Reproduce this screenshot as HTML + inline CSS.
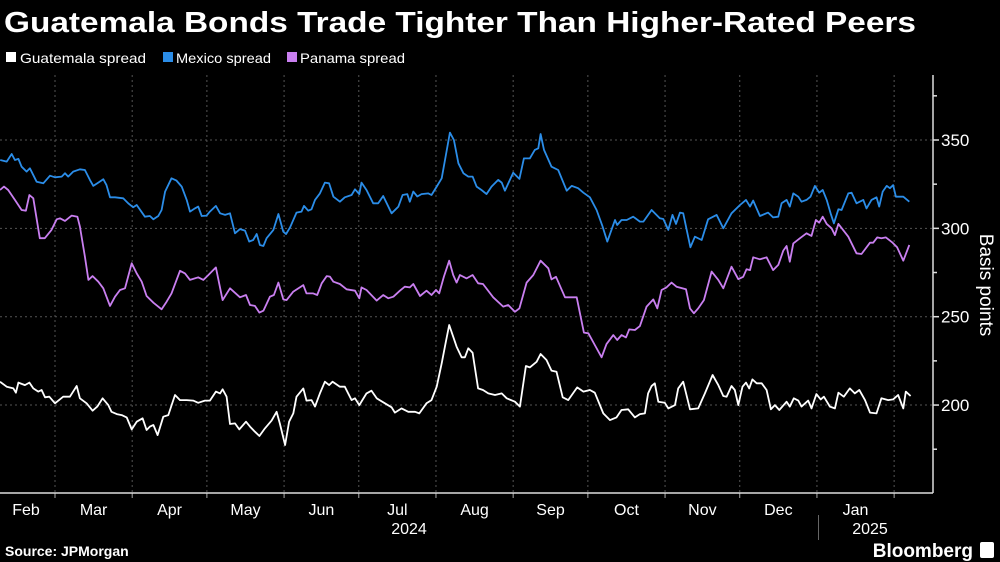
<!DOCTYPE html>
<html><head><meta charset="utf-8"><style>
html,body{margin:0;padding:0;background:#000;}
svg{display:block;font-family:"Liberation Sans","DejaVu Sans",sans-serif;}
</style></head><body>
<svg id="chart" width="1000" height="562" viewBox="0 0 1000 562" xmlns="http://www.w3.org/2000/svg">
<rect width="1000" height="562" fill="#000"/>
<text x="4" y="32" fill="#fff" font-size="29" font-weight="bold" textLength="912" lengthAdjust="spacingAndGlyphs">Guatemala Bonds Trade Tighter Than Higher-Rated Peers</text>
<g font-size="14" fill="#fff">
<g><rect x="6" y="52" width="10" height="10" fill="#fff"/><text x="20" y="63" textLength="126" lengthAdjust="spacingAndGlyphs">Guatemala spread</text></g>
<g><rect x="163" y="52" width="10" height="10" fill="#2b8de8"/><text x="176" y="63" textLength="95" lengthAdjust="spacingAndGlyphs">Mexico spread</text></g>
<g><rect x="287" y="52" width="10" height="10" fill="#c97ff0"/><text x="300" y="63" textLength="105" lengthAdjust="spacingAndGlyphs">Panama spread</text></g>
</g>
<g id="grid"></g>
<g id="axes"></g>
<g id="series"></g>
<text transform="translate(980,285) rotate(90)" text-anchor="middle" fill="#fff" font-size="19">Basis points</text>
<text x="409" y="534" text-anchor="middle" fill="#fff" font-size="16">2024</text>
<text x="870" y="534" text-anchor="middle" fill="#fff" font-size="16">2025</text>
<line x1="818.5" y1="515" x2="818.5" y2="540" stroke="#666" stroke-width="1"/>
<text x="5" y="556" fill="#fff" font-size="14" font-weight="bold">Source: JPMorgan</text>
<text x="973" y="557" text-anchor="end" fill="#fff" font-size="19" font-weight="bold">Bloomberg</text>
<rect x="980" y="542" width="14" height="16" rx="2" fill="#fff"/>
</svg>
<script>
const monthLabels=["Feb","Mar","Apr","May","Jun","Jul","Aug","Sep","Oct","Nov","Dec","Jan"];
const monthStartDays=[-29,0,31,61,92,122,153,184,214,245,275,306,337];
const yTicks=[200,250,300,350];
const yMinorTicks=[175,225,275,325,375];
const guatDays=[-22.1,-19.4,-16.7,-15.7,-14.7,-12.1,-10.3,-8.7,-6.7,-5.4,-4,-2.3,0,3.3,6,8.7,10,12.7,15.1,17,19.1,21.4,22.7,24.8,26.8,28.8,30.8,32.8,35.2,36.8,38.1,39.5,41.2,43.5,45.5,48.2,50.2,52.9,55.5,57.5,60.2,62.2,64.6,66.3,67.3,68.9,70.3,72.3,74,76.7,78.3,80.3,82.1,84.3,87,89,90.3,92.4,94,95.7,97,99.7,101,103,104.4,106.4,108.4,110.1,111.5,114.4,116.4,119.1,120.5,122.2,125.1,127.1,129.2,132.5,135.2,136.5,139.2,141.9,144.6,146.3,149.2,151.2,153.3,155.3,157,158.3,159.9,161.3,163.3,164.6,166,167.7,169.9,171.9,174,176.7,179.4,181.4,184.7,186.7,189.1,190.7,193.4,195,197.4,199.4,201.4,203.9,206.1,209.7,212.2,214.8,216.8,220.2,222.9,225.5,227.5,230.2,232.9,234.9,236.9,238.2,239.6,240.9,242.3,244.9,246.3,249,250.3,252.3,255,258.3,261,264.1,266.4,268.4,269.7,271.7,273,274.4,276.1,277.5,278.8,280.1,281.8,283.8,285.8,287.5,289.1,290.9,293.8,295.1,296.7,298.5,299.8,302.5,303.8,305.8,307.5,308.8,311.2,313.2,314.6,316.8,319.2,321.2,323,325.3,327.3,329.9,331.9,334.6,336.6,338.6,340.7,341.7,343.6];
const guatVals=[213.2,210.4,209.4,207,212.7,211.3,212.7,209.4,207.6,208.5,204.4,204.7,201,204.7,204.7,210.8,203.8,201,196.8,199.1,203.8,200,196.2,194.9,194.3,193,186.2,190.6,192.5,185.9,187.8,188.7,183,193.4,194.3,205.7,202.8,202.8,202.5,201.3,202.5,202.5,207.6,206.6,208.9,204.7,189.3,189.6,186.2,190.6,187.8,184.9,182.5,186.8,191.2,196.2,189.6,177.4,190.6,195.3,204.7,209.4,202.5,202.8,199.1,206.6,213.2,211.3,213.2,210.4,210.4,202.8,203.8,200,206.6,208.1,203.8,201,198.7,195.7,198.1,196.2,196.2,195.3,201,202.8,210.4,223.6,235.9,245.3,238.7,233,227,227,232.1,229.6,209.4,208.5,206.6,205.7,206.6,203.8,201.9,199.1,222.1,221.3,224.5,228.9,225.5,219.5,218.9,204.4,202.8,210,207.6,208.5,207,195.3,191.5,193,197.2,197.6,193,194.9,195.3,206.6,210.8,212.3,201.9,201.3,198.1,200,209.4,213.2,197.6,198.1,206.6,217,211.3,205.1,204.7,210.8,208.5,200,210.4,212.7,209.4,214.5,212.3,212.3,208.5,197.6,200,197.2,201.9,199.1,203.8,202.5,199.1,202.5,198.1,206.2,203.2,204.7,199.1,198.1,207,204.7,209.4,206.6,208.5,202.8,195.7,195.3,203.8,202.8,203.2,205.7,198.1,207.6,205.1];
const mexDays=[-22,-19.4,-17.4,-16.1,-14.7,-13.4,-11.4,-10.1,-7.4,-4.7,-2,0,2.7,4,5.3,7.3,10,12,14,15.4,17.4,19.4,20.7,22.1,24.1,27.4,29.4,31.4,32.8,36.1,38.1,39.5,41.5,42.8,44.2,46.8,48.8,50.9,52.9,54.2,56.2,57.5,58.9,60.9,62.2,64.6,66.3,68.3,70.3,72.3,74.3,76.3,78,79.6,81,82.3,83.7,85,87.7,89.7,91.7,92.8,94.4,97,99,100,101.7,103,104.4,106.4,108.4,110.1,111.8,114.4,116.4,119.1,120.5,122.2,123.1,125.1,127.8,129.8,131.8,135.2,137.9,139.6,141.5,142.5,143.9,145.5,147.2,149.9,151.2,153.3,155.3,157,158.6,160.2,162,164,166,167.7,169.3,171.3,173.3,175.3,178,179.4,180.7,184,186.5,188.3,190.7,192.7,194.1,195,196.4,199.4,202.1,205.5,207.5,210.1,212.2,214.8,217.5,219.9,221.8,224.9,225.8,227.5,229.6,232.2,234.9,236.3,239.6,242.9,244.3,246.3,248,249.4,251,252.3,255.2,257,259.7,262.3,265.7,268.4,271.7,275.1,277.5,279.1,280.4,283.1,286.4,288.4,290.5,291.8,293.8,295.1,296.5,298.5,299.8,301.8,303.4,305.2,306.9,308.3,309.9,311.5,312.8,314.6,315.9,318.6,319.9,321.9,324.6,325.9,327.9,329.9,331,332.4,334,335.3,336.6,337.7,340.7,343.1];
const mexVals=[338.7,337.8,342.1,338.7,339.3,334.9,332.1,334,326.4,325.5,329.8,328.9,329.3,331.2,329.3,332.1,333.4,333,327.4,324,325.9,327.8,324.5,317.6,317.6,317,314.2,311.9,313.2,306.6,307,305.1,307,310.4,320.8,328.3,327,323.6,316.1,309.5,311.3,312.3,307,307.2,309.5,312.7,308.5,307.6,308.5,297.2,299.6,298.7,292.5,293.4,296.8,290.6,290,294.4,299.1,308.1,298.1,296.8,300.6,308.9,309.5,312.7,310,310.8,316.1,319.8,325.9,325.5,317.9,315.1,317.6,318.9,322.1,319.4,325.9,321.7,314.2,314.2,318.3,308.5,312.3,318.9,319.4,315.1,320.8,318,319.4,319.8,318.9,323.6,328.3,341.5,354.2,350,336.8,331.2,329.3,329.3,323.6,321.7,319.4,323.6,327.4,325.9,321.3,331.5,328,339.6,339.6,344.4,345.3,353.4,344.4,334.9,333,321.3,324,322.7,320.2,317.6,310.4,301,292.5,304.7,301.9,304.7,304.7,306.6,303.8,303.8,310.4,305.7,305.3,299.1,307.6,302.5,308.9,308.5,289.3,295.3,293.4,305.1,307.6,300,308.5,313.2,316.1,312.3,315.7,307,308.9,306.2,306.6,314.2,316.1,312.3,319.8,317.9,315.1,316.1,317.9,324,320.2,321.7,316.1,308.5,302.8,310.8,310.4,319.8,320.2,314.2,316.1,311.3,316.1,317.6,312.3,320.8,324,322.7,324.5,317.9,317.9,315.1];
const panDays=[-22.1,-20.5,-18.8,-16.1,-13.4,-11.7,-10.3,-8.7,-6.1,-4.1,-1.4,0.7,2,4,6.7,9,10,12,13.4,15.1,17.4,19.4,22.1,24.1,26.1,28.1,30.8,32.8,34.8,36.8,39.5,42.8,44.8,46.8,50.2,52.2,54.2,57.5,59.6,61.6,64.6,67.3,70.3,74.3,76.7,78.3,80.3,82.1,83.7,86.3,87.9,89.7,91.7,93,95.7,99.7,101,103.7,105.3,107.1,109.1,110.4,111.8,114.4,117.1,120.5,122.2,123.1,125.1,129.2,131.8,133.8,135.9,138.5,140.5,142.5,143.9,146.6,149.2,151.2,153,154.3,156.2,158.3,159.9,161.3,162.6,165.3,167.7,169.9,171.9,176,180,182,184.7,186.5,189.4,192.1,195,198.1,199.4,201.2,204.8,209.5,212.4,214.2,216.8,219.5,221.5,224.2,225.8,227.5,229.3,230.6,232.9,234.9,237.6,240.3,241.9,243.6,245.6,247.6,249.6,253.4,255,256.6,258.3,260.6,263.7,266.4,268.4,271.7,274.4,276.4,277.7,279.1,280.4,283.1,285.8,288.4,290.5,292.5,293.8,295.1,296.5,299.2,301.8,303.8,305.6,306.9,308.3,309.9,311.9,313.2,314.6,318.6,321.9,323.9,327.3,328.6,330.2,331.9,333.7,336.4,338.2,340.7,343.1];
const panVals=[321.7,323.6,321.7,316.1,310.4,310,318.9,317,294.4,294.4,299.1,305.1,305.7,304.2,307.2,306.6,301,284,270.8,273,269.8,266.1,256.1,261.3,265.1,266.1,280.2,274.5,269.8,261.7,257.9,254.2,258.5,263.2,276,274.5,270.8,272.3,270.8,273.6,277.9,259.4,266.1,261,262.3,256.6,256.1,252.3,253.4,261.3,262.3,269.3,259.8,259.4,264.2,267.9,263.2,263.2,262.3,268.9,273,272.7,269.8,268.5,265.5,264.7,260.4,266.6,265.1,259.1,262.3,260.4,261.3,264.7,267,266.6,268.5,261.7,264.7,262.3,265.1,263.2,272.7,281.7,273.6,269.3,273.6,271.7,273.6,268.9,268.5,261,255.7,256.6,252.8,254.7,269.3,273.6,281.7,277.4,271.1,272.6,261,261,241,240.6,234,227,234.5,239.6,236.8,239.6,238.3,242.8,242.5,244.7,255.7,259.8,254.7,265.1,266.6,269.3,267,265.5,254.7,251.9,254.7,259.4,275.5,270.8,266.1,278.3,271.2,272.6,276.8,276.4,283.6,282.5,283.6,276.4,279.3,287.4,290,281.1,291.5,294.4,297.2,295.7,304.7,303.2,306.6,302.5,300,296.2,302.5,295.3,285.9,285.5,291.9,291.9,294.9,294.4,294.9,291.9,289.3,281.7,290.6];

const NS="http://www.w3.org/2000/svg";
const X0=55, PX_PER_DAY=2.49, Y350=140, PX_PER_BP=1.767;
const PLOT_L=0, PLOT_R=933, PLOT_T=75, PLOT_B=493;
function xScale(d){return X0+d*PX_PER_DAY;}
function yScale(v){return Y350+(350-v)*PX_PER_BP;}
function mk(tag,attrs,parent){const e=document.createElementNS(NS,tag);for(const k in attrs)e.setAttribute(k,attrs[k]);parent.appendChild(e);return e;}

const grid=document.getElementById('grid');
const axes=document.getElementById('axes');
const series=document.getElementById('series');

yTicks.forEach(v=>{
  const y=yScale(v);
  const gl=mk('line',{x1:PLOT_L,x2:PLOT_R,y1:y,y2:y,stroke:'#555','stroke-width':1,'stroke-dasharray':'2,3'},grid);
  
  
  const tk=mk('line',{x1:PLOT_R,x2:PLOT_R+6,y1:y,y2:y,stroke:'#ddd','stroke-width':1.5},axes);
  
  
  const t=mk('text',{x:PLOT_R+8,y:y+6,fill:'#fff','font-size':17},axes);
  t.textContent=v;
  
  
});
yMinorTicks.forEach(v=>{
  const y=yScale(v);
  const tk=mk('line',{x1:PLOT_R,x2:PLOT_R+4,y1:y,y2:y,stroke:'#ddd','stroke-width':1.5},axes);
  
  
});
monthStartDays.forEach((d,i)=>{
  const x=xScale(d);
  if(x>PLOT_L+2 && x<PLOT_R){
    const gl=mk('line',{x1:x,x2:x,y1:PLOT_T,y2:PLOT_B,stroke:'#555','stroke-width':1,'stroke-dasharray':'2,3'},grid);
    
    
    const tk=mk('line',{x1:x,x2:x,y1:PLOT_B,y2:PLOT_B+5,stroke:'#aaa','stroke-width':1},axes);
    
    
  }
  if(i<monthLabels.length){
    const mid=Math.max(26,(xScale(d)+xScale(monthStartDays[i+1]))/2);
    const t=mk('text',{x:mid,y:515,fill:'#fff','font-size':16,'text-anchor':'middle'},axes);
    t.textContent=monthLabels[i];
    
    
  }
});
const xa=mk('line',{x1:PLOT_L,x2:PLOT_R,y1:PLOT_B,y2:PLOT_B,stroke:'#ddd','stroke-width':1.5},axes);


const ya=mk('line',{x1:PLOT_R,x2:PLOT_R,y1:PLOT_T,y2:PLOT_B,stroke:'#ddd','stroke-width':1.5},axes);



function drawLine(days,vals,color,name){
  const d=days.map((dd,i)=>(i?'L':'M')+xScale(dd).toFixed(1)+','+yScale(vals[i]).toFixed(1)).join('');
  const p=mk('path',{d:d,fill:'none',stroke:color,'stroke-width':1.8,'stroke-linejoin':'round'},series);
  
  
}
drawLine(panDays,panVals,'#c97ff0','panama-spread-line');
drawLine(mexDays,mexVals,'#2b8de8','mexico-spread-line');
drawLine(guatDays,guatVals,'#ffffff','guatemala-spread-line');
</script>
</body></html>
